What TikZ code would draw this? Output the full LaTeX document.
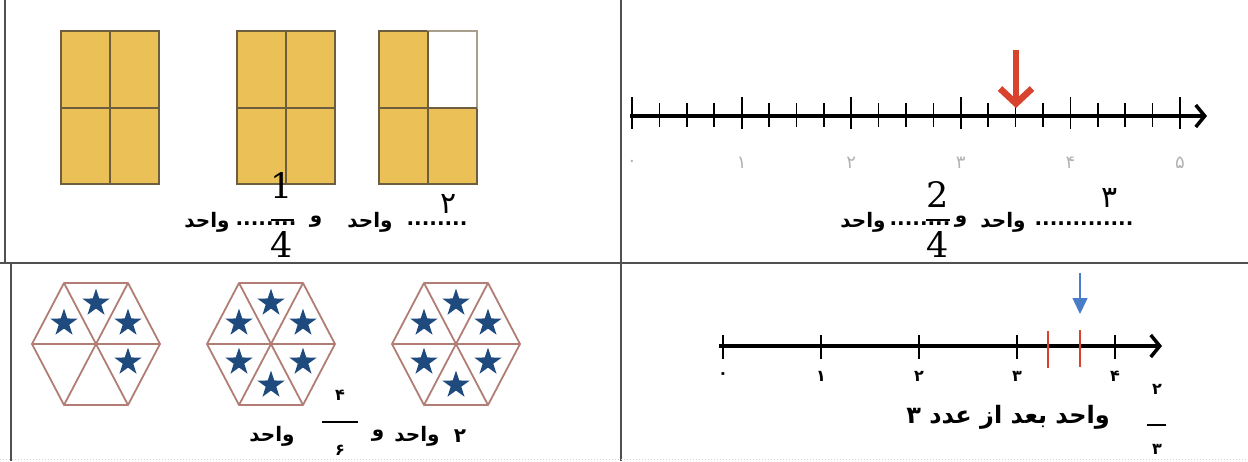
\documentclass[tikz,border=0pt]{standalone}
\usepackage{fontspec}
\usetikzlibrary{arrows.meta,positioning,calc,shapes.geometric}
\TeXXeTstate=1
\newfontfamily\arabicfont[Script=Arabic]{DejaVu Sans}
\newfontfamily\serifchif{DejaVu Serif}
\definecolor{jaune}{HTML}{EBC157}
\definecolor{bordC}{HTML}{6E5E40}
\definecolor{hexC}{HTML}{B27D74}
\definecolor{bleuC}{HTML}{1F4A7E}
\definecolor{rougeC}{HTML}{D8432E}
\definecolor{bleuF}{HTML}{4A7DC8}
\definecolor{grisC}{HTML}{505050}
\tikzset{
  pave/.style={draw=bordC, line width=1.6pt, fill=jaune},
  hexa/.style={draw=hexC, line width=1.8pt, line join=round},
  etoile/.style={star, star points=5, star point ratio=2.6, fill=bleuC, inner sep=0pt, minimum size=29pt},
  mot/.style={font=\arabicfont\bfseries\fontsize{20}{22}\selectfont, inner sep=0pt},
  petit/.style={font=\arabicfont\bfseries\fontsize{16}{16}\selectfont, inner sep=0pt},
  chiffre/.style={font=\serifchif\fontsize{35}{35}\selectfont, inner sep=0pt},
  grad/.style={font=\arabicfont\fontsize{18}{18}\selectfont, inner sep=0pt},
  axe/.style={line width=3.5pt, -{Straight Barb[length=9pt,width=22pt]}},
  cadre/.style={draw=grisC, line width=2pt},
}
\begin{document}
\begin{tikzpicture}[x=1pt,y=-1pt]
  \useasboundingbox (0,0) rectangle (1248,461);
  % cadre
  \draw[cadre] (5,0) -- (5,263); \draw[cadre] (11,263) -- (11,461);
  \draw[cadre] (621,0) -- (621,461);
  \draw[cadre] (0,263) -- (1248,263);
  \draw[gray!35, line width=1pt, dotted] (0,459) -- (1248,459);

  % rectangles (haut gauche)
  \foreach \x in {61,237,379}
    \draw[pave] (\x,31) rectangle ++(98,153);
  \draw[pave, fill=white, draw=bordC!60] (428,31) rectangle (477,108);
  \foreach \x in {61,237,379}
    \draw[pave, fill=none] (\x+49,31) -- ++(0,153) (\x,108) -- ++(98,0);

  \node[mot] (tl1) at (207,222) {\beginR واحد\endR};
  \node[mot] (tl2) at (266,224) {........};
  \node[mot] (tl3) at (316,222) {\beginR و\endR};
  \node[mot] (tl4) at (370,222) {\beginR واحد\endR};
  \node[mot] (tl5) at (437,224) {........};
  \node[chiffre] (n1) at (282,186) {1};
  \node[chiffre] (d1) at (282,245) {4};
  \draw[line width=2.5pt] (271,220) -- (294,220);
  \node[font=\arabicfont\fontsize{30}{30}\selectfont, inner sep=0pt] (v1) at (449,204) {۲};

  % droite graduee (haut droite)
  \coordinate (o1) at (630,116); \coordinate (f1) at (1207,116);
  \draw[axe] (o1) -- (f1);
  \foreach \i in {0,...,20}
    \draw[line width=1.6pt] (632+27.4*\i,103) -- ++(0,24);
  \foreach \k/\lab in {0/۰,1/۱,2/۲,3/۳,4/۴,5/۵} {
    \draw[line width=1.8pt] (632+109.6*\k,97) -- ++(0,32);
    \node[grad, text=gray!60] (g\k) at (632+109.6*\k,163) {\lab};
  }
  \coordinate (r0) at (1016,50); \coordinate (r1) at (1016,108);
  \draw[rougeC, line width=6.5pt, -{Straight Barb[length=15pt,width=32pt]}] (r0) -- (r1);

  \node[mot] (tr1) at (863,222) {\beginR واحد\endR};
  \node[mot] (tr2) at (920,224) {........};
  \node[mot] (tr3) at (961,222) {\beginR و\endR};
  \node[mot] (tr4) at (1003,222) {\beginR واحد\endR};
  \node[mot] (tr5) at (1084,224) {.............};
  \node[chiffre] (n2) at (938,195) {2};
  \node[chiffre] (d2) at (938,245) {4};
  \draw[line width=2.5pt] (926,220) -- (950,220);
  \node[font=\arabicfont\fontsize{30}{30}\selectfont, inner sep=0pt] (v2) at (1110,198) {۳};

  % hexagones (bas gauche)
  \foreach \cx in {96,271,456} {
    \draw[hexa] (\cx-64,344) -- (\cx-32,283) -- (\cx+32,283) -- (\cx+64,344)
      -- (\cx+32,405) -- (\cx-32,405) -- cycle;
    \draw[hexa] (\cx-64,344) -- (\cx+64,344) (\cx-32,283) -- (\cx+32,405)
      (\cx+32,283) -- (\cx-32,405);
  }
  \foreach \dx/\dy/\k in {-32/-21/1,0/-41/2,32/-21/3,32/18/5}
    \node[etoile] (ea\k) at (96+\dx,344+\dy) {};
  \foreach \cx/\h in {271/b,456/c}
    \foreach \dx/\dy/\k in {-32/-21/1,0/-41/2,32/-21/3,-32/18/4,32/18/5,0/41/6}
      \node[etoile] (e\h\k) at (\cx+\dx,344+\dy) {};

  \node[mot] (bl1) at (272,436) {\beginR واحد\endR};
  \node[mot] (bl2) at (378,436) {\beginR و\endR};
  \node[mot] (bl3) at (417,436) {\beginR واحد\endR};
  \node[mot] (bl4) at (460,436) {۲};
  \node[petit] (n3) at (340,395) {۴};
  \node[petit] (d3) at (340,450) {۶};
  \draw[line width=1.6pt] (322,422) -- (358,422);

  % droite graduee (bas droite)
  \coordinate (o2) at (719,346); \coordinate (f2) at (1162,346);
  \draw[axe] (o2) -- (f2);
  \foreach \k/\lab in {0/۰,1/۱,2/۲,3/۳,4/۴} {
    \draw[line width=2pt] (723+98*\k,335) -- ++(0,24);
    \node[petit] (h\k) at (723+98*\k,376) {\lab};
  }
  \draw[rougeC, line width=1.2pt] (1048,331) -- (1048,368) (1080,330) -- (1080,367);
  \coordinate (b0) at (1080,273); \coordinate (b1) at (1080,314);
  \draw[bleuF, line width=1.5pt, -{Triangle[length=16pt,width=15pt]}] (b0) -- (b1);

  \node[mot, font=\arabicfont\bfseries\fontsize{24}{26}\selectfont] (br1) at (1008,417)
    {\beginR واحد بعد از عدد ۳\endR};
  \node[petit] (n4) at (1157,389) {۲};
  \node[petit] (d4) at (1157,449) {۳};
  \draw[line width=1.6pt] (1147,425) -- (1166,425);
\end{tikzpicture}
\end{document}
